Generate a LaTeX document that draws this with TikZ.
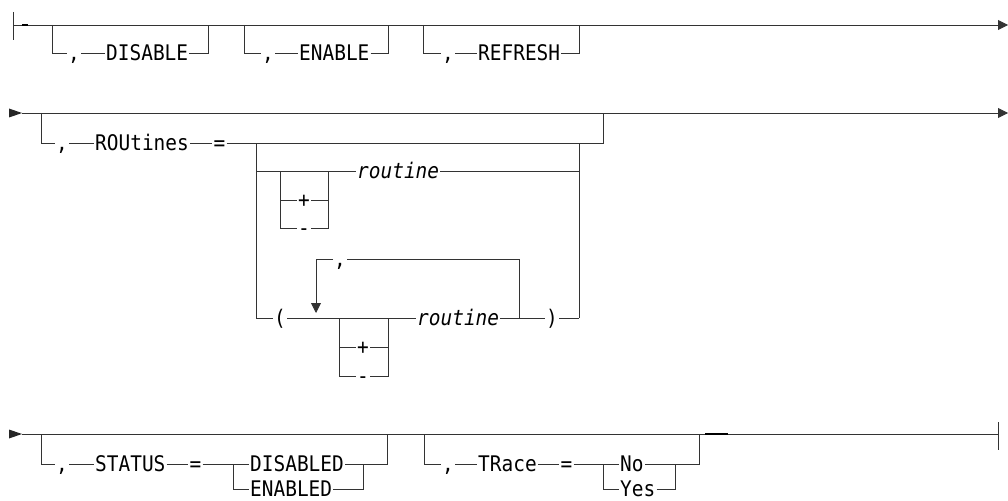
\documentclass[tikz,border=0pt]{standalone}
\usepackage{fontspec}
\newfontfamily\rrfont[FakeStretch=0.904]{DejaVu Sans Mono}
\usetikzlibrary{arrows.meta}
\begin{document}
\begin{tikzpicture}[x=1pt,y=-1pt,
  rail/.style={line width=0.9pt, draw=black!80},
  lbl/.style={anchor=west, inner xsep=1pt, inner ysep=0pt, text height=15.7pt, text depth=0pt, font=\rrfont\fontsize{21.5}{22}\selectfont},
  var/.style={lbl, font=\rrfont\itshape\fontsize{21.5}{22}\selectfont},
  sym/.style={lbl, anchor=center},
  tip/.style={-{Triangle[length=10pt,width=10pt]}},
  startmark/.style={fill=black!85}
]
\useasboundingbox (0,0) rectangle (1008,500);

% ---------------- Row 1 ----------------
\coordinate (r1s) at (13,25);
\coordinate (r1e) at (1008,25);
\draw[rail] (13,12) -- (13,40);
\draw[rail, tip] (r1s) -- (r1e);
\draw[line width=1.6pt] (22,25) -- (28,25);

\node[lbl] (c1) at (67,53) {,};
\node[lbl] (dis) at (105,53) {DISABLE};
\draw[rail] (52,25) |- (c1.west);
\draw[rail] (c1.east) -- (dis.west);
\draw[rail] (dis.east) -| (208,25);

\node[lbl] (c2) at (261,53) {,};
\node[lbl] (ena) at (298,53) {ENABLE};
\draw[rail] (244,25) |- (c2.west);
\draw[rail] (c2.east) -- (ena.west);
\draw[rail] (ena.east) -| (388,25);

\node[lbl] (c3) at (441,53) {,};
\node[lbl] (ref) at (477,53) {REFRESH};
\draw[rail] (423,25) |- (c3.west);
\draw[rail] (c3.east) -- (ref.west);
\draw[rail] (ref.east) -| (579,25);

% ---------------- Row 2 ----------------
\fill[startmark] (9,108.5) -- (22,113) -- (9,117.5) -- cycle;
\draw[rail, tip] (22,113) -- (1008,113);

\node[lbl] (c4) at (55,143) {,};
\node[lbl] (rout) at (94,143) {ROUtines};
\node[sym] (eq1) at (219.5,143) {=};
\draw[rail] (41,113) |- (c4.west);
\draw[rail] (c4.east) -- (rout.west);
\draw[rail] (rout.east) -- (eq1.west);
\draw[rail] (eq1.east) -| (603,113);
\draw[rail] (256,143) -- (256,318);
\draw[rail] (579,143) -- (579,318);

% branch: [+|-] routine
\node[var] (rt1) at (356,171) {routine};
\node[sym] (p1) at (304,200) {+};
\node[sym] (m1) at (304,228) {-};
\draw[rail] (256,171) -- (rt1.west);
\draw[rail] (rt1.east) -- (579,171);
\draw[rail] (280,171) |- (m1.west);
\draw[rail] (m1.east) -| (328,171);
\draw[rail] (280,200) -- (p1.west);
\draw[rail] (p1.east) -- (328,200);

% branch: ( routine, ... )
\node[sym] (lp) at (280,318) {(};
\node[var] (rt2) at (416,318) {routine};
\node[sym] (rp) at (552,318) {)};
\node[sym] (p2) at (363,347) {+};
\node[sym] (m2) at (363,376) {-};
\node[lbl] (lc) at (333,259) {,};
\draw[rail] (256,318) -- (lp.west);
\draw[rail] (lp.east) -- (rt2.west);
\draw[rail] (339,318) |- (m2.west);
\draw[rail] (m2.east) -| (388,318);
\draw[rail] (339,347) -- (p2.west);
\draw[rail] (p2.east) -- (388,347);
\draw[rail] (rt2.east) -- (rp.west);
\draw[rail] (rp.east) -- (579,318);
\draw[rail, tip] (lc.west) -| (316,313);
\draw[rail] (lc.east) -| (519,318);

% ---------------- Row 3 ----------------
\fill[startmark] (9,429.5) -- (22,434) -- (9,438.5) -- cycle;
\draw[rail] (22,434) -- (998,434);
\draw[rail] (998,422) -- (998,450);
\draw[line width=1.6pt] (705,434) -- (728,434);

\node[lbl] (c5) at (55,464) {,};
\node[lbl] (st) at (94,464) {STATUS};
\node[sym] (eq2) at (195.5,464) {=};
\node[lbl] (dd) at (249,464) {DISABLED};
\node[lbl] (en) at (249,489) {ENABLED};
\draw[rail] (41,434) |- (c5.west);
\draw[rail] (c5.east) -- (st.west);
\draw[rail] (st.east) -- (eq2.west);
\draw[rail] (eq2.east) -- (dd.west);
\draw[rail] (233,464) |- (en.west);
\draw[rail] (dd.east) -| (387,434);
\draw[rail] (en.east) -| (363,464);

\node[lbl] (c6) at (441,464) {,};
\node[lbl] (tr) at (477,464) {TRace};
\node[sym] (eq3) at (566.5,464) {=};
\node[lbl] (no) at (619,464) {No};
\node[lbl] (yes) at (619,489) {Yes};
\draw[rail] (424,434) |- (c6.west);
\draw[rail] (c6.east) -- (tr.west);
\draw[rail] (tr.east) -- (eq3.west);
\draw[rail] (eq3.east) -- (no.west);
\draw[rail] (603,464) |- (yes.west);
\draw[rail] (no.east) -| (699,434);
\draw[rail] (yes.east) -| (675,464);
\end{tikzpicture}
\end{document}
